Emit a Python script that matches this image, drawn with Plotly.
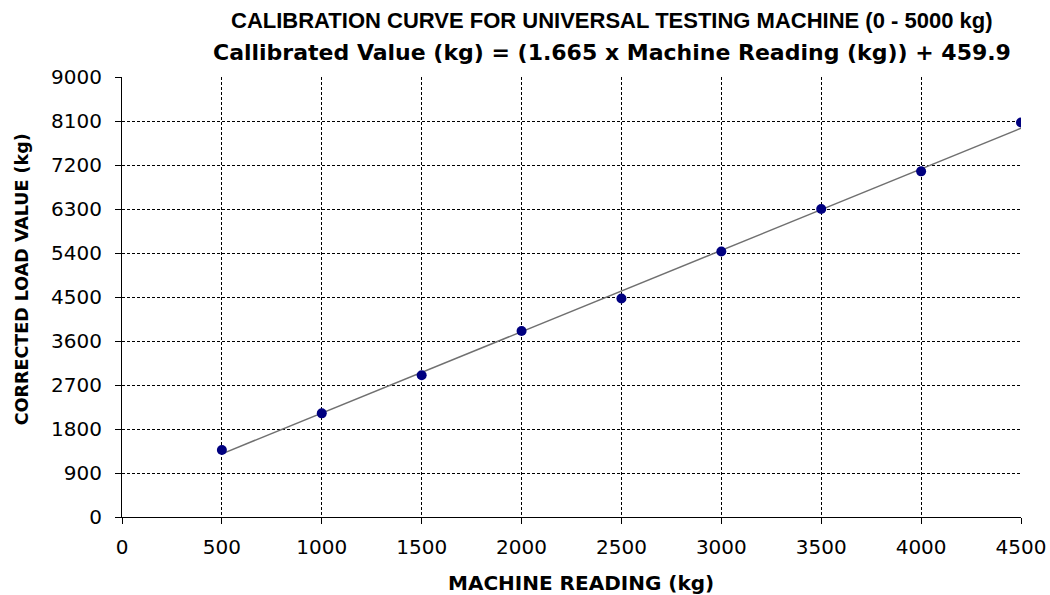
import plotly.graph_objects as go

machine_reading = [500, 1000, 1500, 2000, 2500, 3000, 3500, 4000, 4500]
corrected_load = [1370, 2120, 2900, 3805, 4470, 5430, 6300, 7070, 8070]
slope = 1.665
intercept = 459.9
x_ticks = [0, 500, 1000, 1500, 2000, 2500, 3000, 3500, 4000, 4500]
y_ticks = [0, 900, 1800, 2700, 3600, 4500, 5400, 6300, 7200, 8100, 9000]

title1 = "CALIBRATION CURVE FOR UNIVERSAL TESTING MACHINE (0 - 5000 kg)"
title2 = "Callibrated Value (kg) = (1.665 x Machine Reading (kg)) + 459.9"
x_title = "MACHINE READING (kg)"
y_title = "CORRECTED LOAD VALUE (kg)"

fit_x = [machine_reading[0], machine_reading[-1]]
fit_y = [slope * v + intercept for v in fit_x]

fig = go.Figure()
fig.add_trace(go.Scatter(x=fit_x, y=fit_y, mode="lines",
                         line=dict(color="#707070", width=1.5), showlegend=False))
fig.add_trace(go.Scatter(x=machine_reading, y=corrected_load, mode="markers",
                         marker=dict(color="#000080", size=10, line=dict(width=0)),
                         showlegend=False))

sans = "Liberation Sans, Arial, sans-serif"
wide = "DejaVu Sans, sans-serif"
fig.update_layout(
    width=1050, height=595,
    margin=dict(l=122, r=29, t=77, b=78),
    paper_bgcolor="white", plot_bgcolor="white",
    font=dict(family=sans, color="black"),
    annotations=[
        dict(text="<b>" + title1 + "</b>", xref="paper", yref="paper",
             x=0.545, y=1, yshift=57, showarrow=False, xanchor="center", yanchor="middle",
             font=dict(size=22, family=sans, color="black")),
        dict(text="<b>" + title2 + "</b>", xref="paper", yref="paper",
             x=0.545, y=1, yshift=25, showarrow=False, xanchor="center", yanchor="middle",
             font=dict(size=22, family=wide, color="black")),
        dict(text="<b>" + x_title + "</b>", xref="paper", yref="paper",
             x=0.511, y=-0.15, showarrow=False, xanchor="center", yanchor="middle",
             font=dict(size=20, family=wide, color="black")),
        dict(text="<b>" + y_title + "</b>", xref="paper", yref="paper", textangle=-90,
             x=-0.111, y=0.541, showarrow=False, xanchor="center", yanchor="middle",
             font=dict(size=17.5, family=wide, color="black")),
    ],
)
fig.update_xaxes(
    range=[0, 4500], tickvals=x_ticks, ticktext=[str(v) for v in x_ticks],
    showgrid=True, gridcolor="black", griddash="3px,2px", gridwidth=1,
    showline=True, linecolor="black", linewidth=1.2,
    ticks="outside", ticklen=6, tickcolor="black",
    tickfont=dict(size=20, family=wide), ticklabelstandoff=6,
    zeroline=False, automargin=False,
)
fig.update_yaxes(
    range=[0, 9000], tickvals=y_ticks, ticktext=[str(v) for v in y_ticks],
    showgrid=True, gridcolor="black", griddash="3px,2px", gridwidth=1,
    showline=True, linecolor="black", linewidth=1.2,
    ticks="outside", ticklen=6, tickcolor="black",
    tickfont=dict(size=20, family=wide), ticklabelstandoff=9,
    zeroline=False, automargin=False,
)

fig.write_html("out.html", config={"displayModeBar": False},
               post_script="document.body.style.margin='0';")
